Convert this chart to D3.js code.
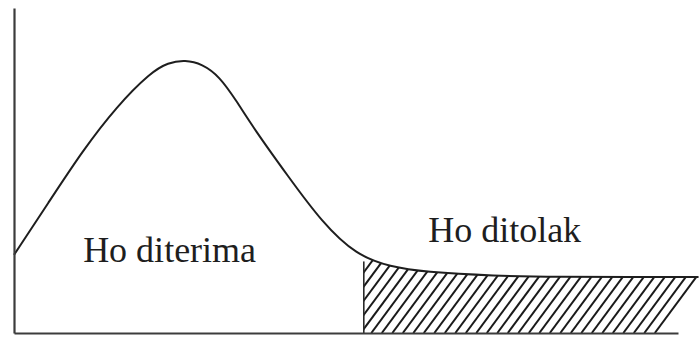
<!DOCTYPE html>
<html>
<head>
<meta charset="utf-8">
<script src="https://cdn.jsdelivr.net/npm/d3@7"></script>
<style>
  html, body { margin: 0; padding: 0; background: #fff; }
  svg { display: block; }
</style>
</head>
<body>
<div id="chart"></div>
<script>
// curve (x position, density height)
var curveX = [0, 0.5, 1, 1.5, 2, 2.25, 2.5, 2.75, 3, 3.25, 3.5, 4, 4.5, 5, 5.5, 6, 7, 8, 9, 10];
var curveY = [0.286, 0.476, 0.667, 0.83, 0.955, 0.99, 1.0, 0.985, 0.94, 0.85, 0.75, 0.575, 0.405, 0.285, 0.242, 0.223, 0.209, 0.205, 0.205, 0.205];

// critical value where the rejection region starts
var critical = 5.11;
var criticalHeight = 0.262;

// region labels
var labelText = ['Ho diterima', 'Ho ditolak'];
var labelX = [1.01, 6.05];
var labelY = [0.26, 0.333];

var dataset = curveX.map(function(d, i) {
  return { x: d, y: curveY[i] };
});

var chart_width = 699;
var chart_height = 338;

// scales
var x_scale = d3.scaleLinear()
  .domain([0, 9.7])
  .range([14, 678]);

var y_scale = d3.scaleLinear()
  .domain([0, 1.19])
  .range([333, 8]);

var svg = d3.select('#chart')
  .append('svg')
  .attr('width', chart_width)
  .attr('height', chart_height);

// axes, no ticks, only the lines
var x_axis = d3.axisBottom(x_scale).tickValues([]).tickSizeOuter(0);
var y_axis = d3.axisLeft(y_scale).tickValues([]).tickSizeOuter(0);

var line = d3.line()
  .x(function(d) { return x_scale(d.x); })
  .y(function(d) { return y_scale(d.y); })
  .curve(d3.curveBasis);

var area = d3.area()
  .x(function(d) { return x_scale(d.x); })
  .y0(y_scale(0))
  .y1(function(d) { return y_scale(d.y); })
  .curve(d3.curveBasis);

// rejection region: area under the curve right of the critical value
svg.append('clipPath')
  .attr('id', 'reject-clip')
  .append('path')
  .datum(dataset)
  .attr('d', area);

svg.append('clipPath')
  .attr('id', 'reject-x')
  .append('rect')
  .attr('x', x_scale(critical))
  .attr('y', 0)
  .attr('width', chart_width - x_scale(critical))
  .attr('height', chart_height);

// hatching
var slope = 1.35;
var spacing = 10.5;
var base = y_scale(0);
var starts = d3.range(x_scale(critical) - 45, 658, spacing);

svg.append('g')
  .attr('clip-path', 'url(#reject-x)')
  .append('g')
  .attr('clip-path', 'url(#reject-clip)')
  .selectAll('line')
  .data(starts)
  .enter()
  .append('line')
  .attr('x1', function(d) { return d; })
  .attr('y1', base)
  .attr('x2', function(d) { return d + 90 / slope; })
  .attr('y2', base - 90)
  .attr('stroke', '#1a1a1a')
  .attr('stroke-width', 2);

// critical value line
svg.append('line')
  .attr('x1', x_scale(critical))
  .attr('x2', x_scale(critical))
  .attr('y1', y_scale(0))
  .attr('y2', y_scale(criticalHeight))
  .attr('stroke', '#2a2a2a')
  .attr('stroke-width', 1.6);

// the curve
svg.append('path')
  .datum(dataset)
  .attr('fill', 'none')
  .attr('stroke', '#1e1e1e')
  .attr('stroke-width', 2)
  .attr('d', line);

svg.append('g')
  .call(x_axis)
  .attr('transform', 'translate(0,' + y_scale(0) + ')')
  .select('.domain')
  .attr('stroke', '#3c3c3c')
  .attr('stroke-width', 2.2);

svg.append('g')
  .call(y_axis)
  .attr('transform', 'translate(' + x_scale(0) + ',0)')
  .select('.domain')
  .attr('stroke', '#3c3c3c')
  .attr('stroke-width', 2.2);

// labels
svg.selectAll('.label')
  .data(labelText)
  .enter()
  .append('text')
  .attr('class', 'label')
  .attr('x', function(d, i) { return x_scale(labelX[i]); })
  .attr('y', function(d, i) { return y_scale(labelY[i]); })
  .attr('font-family', '"Liberation Serif", "Times New Roman", serif')
  .attr('font-size', 36)
  .attr('fill', '#1e1e1e')
  .text(function(d) { return d; });
</script>
</body>
</html>
